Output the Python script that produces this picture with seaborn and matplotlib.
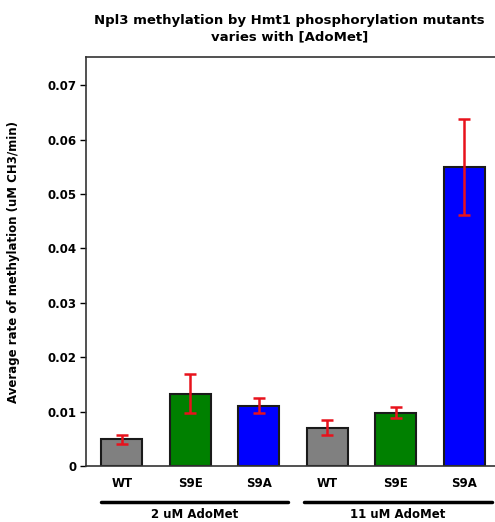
import numpy as np
import pandas as pd
import matplotlib
matplotlib.use("Agg")
from matplotlib import pyplot as plt
import seaborn as sns

# values
strains = ["WT", "S9E", "S9A", "WT", "S9E", "S9A"]
groups = ["2 uM AdoMet", "11 uM AdoMet"]
rates = [0.0049, 0.0133, 0.0111, 0.0071, 0.0098, 0.0549]
errors = [0.0009, 0.0036, 0.0014, 0.0014, 0.0010, 0.0088]
bar_colors = ["#808080", "#008000", "#0000ff", "#808080", "#008000", "#0000ff"]

sns.set_style("ticks")
plt.rcParams["font.family"] = ["DejaVu Sans"]
plt.rcParams["font.weight"] = "bold"
plt.rcParams["text.color"] = "black"
plt.rcParams["axes.labelcolor"] = "black"
plt.rcParams["xtick.color"] = "black"
plt.rcParams["ytick.color"] = "black"

df = pd.DataFrame({
    "slot": [str(i) for i in range(len(rates))],
    "strain": strains,
    "rate": rates,
})

fig = plt.figure(figsize=(4.95, 5.22), dpi=100)
ax = fig.add_axes([0.174, 0.107, 0.83, 0.784])

sns.barplot(data=df, x="slot", y="rate", hue="slot", palette=bar_colors,
            saturation=1, width=0.6, edgecolor="#1a1a1a", linewidth=1.5,
            legend=False, errorbar=None, ax=ax)
ax.errorbar(np.arange(len(rates)), rates, yerr=errors, fmt="none",
            ecolor="#e8121c", elinewidth=1.8, capsize=4.5, capthick=1.8, zorder=5)

ax.set_xlim(-0.52, 5.48)
ax.set_ylim(0, 0.0752)
ax.set_yticks(np.arange(0, 0.071, 0.01))
ax.set_yticklabels(["0"] + [f"{v:.2f}" for v in np.arange(0.01, 0.071, 0.01)],
                   fontsize=8.5, fontweight="bold")
ax.set_xticks(range(len(strains)))
ax.set_xticklabels(strains, fontsize=8.5, fontweight="bold")
ax.tick_params(axis="x", length=0, pad=8)
ax.tick_params(axis="y", length=4, width=1, direction="out", pad=3)
ax.set_xlabel("")
ax.set_ylabel("Average rate of methylation (uM CH3/min)", fontsize=8.5,
              fontweight="bold", labelpad=20)
for side in ["left", "bottom", "top"]:
    ax.spines[side].set_linewidth(1.2)
    ax.spines[side].set_color("#333333")
ax.spines["right"].set_visible(False)

# group brackets under the x labels
trans = ax.get_xaxis_transform()
for (x0, x1), name in zip([(-0.30, 2.43), (2.66, 5.40)], groups):
    ax.plot([x0, x1], [-0.088, -0.088], color="black", lw=2.5,
            transform=trans, clip_on=False)
    ax.text((x0 + x1) / 2, -0.118, name, transform=trans, ha="center",
            va="center", fontsize=8.5, fontweight="bold")

fig.text(0.585, 0.945, "Npl3 methylation by Hmt1 phosphorylation mutants\nvaries with [AdoMet]",
         ha="center", va="center", fontsize=9.5, fontweight="bold", linespacing=1.3)

fig.savefig("out.png", dpi=100)
